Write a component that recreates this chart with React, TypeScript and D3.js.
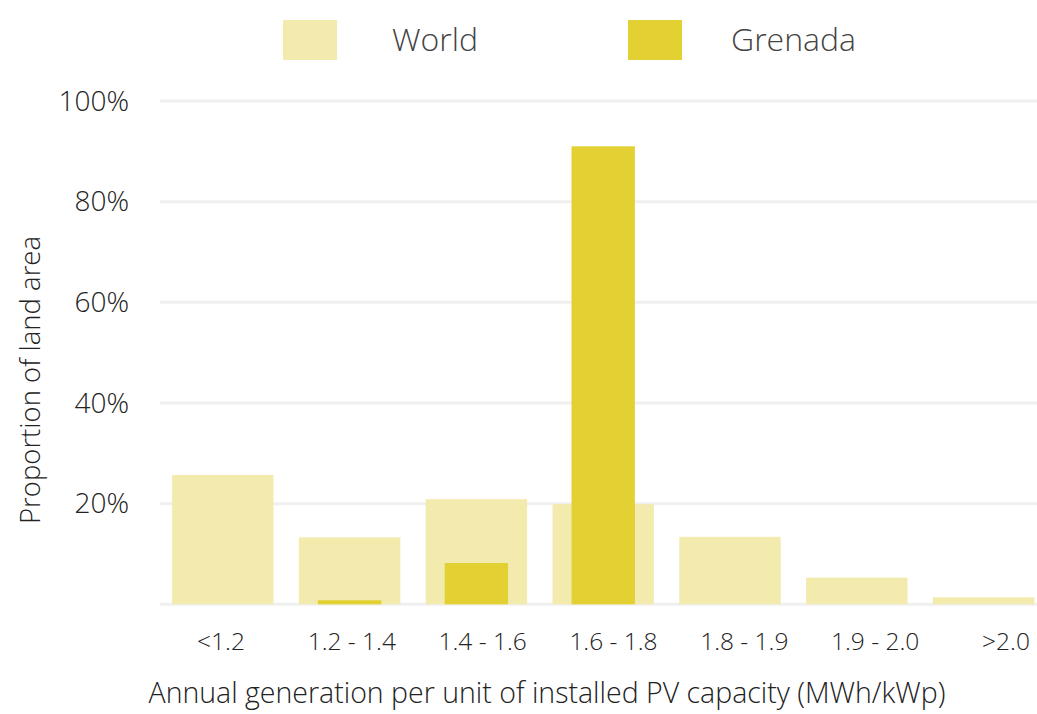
import React, { useEffect, useRef } from 'react';
import * as d3 from 'd3';

const categories = ['<1.2', '1.2 - 1.4', '1.4 - 1.6', '1.6 - 1.8', '1.8 - 1.9', '1.9 - 2.0', '>2.0'];
const worldValues = [25.7, 13.3, 20.9, 19.9, 13.4, 5.3, 1.4];
const grenadaValues = [0, 0.8, 8.2, 91.0, 0, 0, 0];
const yTicks = [0, 20, 40, 60, 80, 100];
const seriesNames = ['World', 'Grenada'];
const seriesColors = ['#f3ebae', '#e3d133'];

const FONT = '"Open Sans", Lato, sans-serif';

const App = () => {
  const svgRef = useRef<SVGSVGElement>(null);

  useEffect(() => {
    const width = 1037;
    const height = 714;

    svgRef.current!.innerHTML = '';
    const svg = d3.select(svgRef.current)
      .attr('width', width)
      .attr('height', height)
      .style('font-family', FONT)
      .style('font-weight', 300);

    const xScale = d3.scaleBand()
      .domain(categories)
      .range([159.4, 1047])
      .padding(0);

    // labels sit a little to the right of the bars in the original
    const labelScale = d3.scalePoint()
      .domain(categories)
      .range([221, 1006]);

    const yScale = d3.scaleLinear()
      .domain([0, 100])
      .range([604.3, 101]);

    const step = xScale.step();
    const worldW = step * 0.8;
    const grenW = step * 0.5;

    // gridlines
    svg.append('g')
      .selectAll('line')
      .data(yTicks)
      .enter().append('line')
      .attr('x1', 160)
      .attr('x2', width)
      .attr('y1', d => yScale(d))
      .attr('y2', d => yScale(d))
      .attr('stroke', '#f0f0f0')
      .attr('stroke-width', 3);

    // y tick labels
    svg.append('g')
      .selectAll('text')
      .data(yTicks.filter(d => d > 0))
      .enter().append('text')
      .attr('x', 129)
      .attr('y', d => yScale(d))
      .attr('dy', '0.35em')
      .attr('text-anchor', 'end')
      .attr('font-size', 28)
      .attr('fill', '#222')
      .text(d => `${d}%`);

    // world bars
    svg.append('g')
      .attr('fill', seriesColors[0])
      .selectAll('rect')
      .data(worldValues)
      .enter().append('rect')
      .attr('x', (d, i) => xScale(categories[i])! + (step - worldW) / 2)
      .attr('y', d => yScale(d))
      .attr('width', worldW)
      .attr('height', d => yScale(0) - yScale(d));

    // grenada bars
    svg.append('g')
      .attr('fill', seriesColors[1])
      .selectAll('rect')
      .data(grenadaValues)
      .enter().append('rect')
      .attr('x', (d, i) => xScale(categories[i])! + (step - grenW) / 2)
      .attr('y', d => yScale(d))
      .attr('width', grenW)
      .attr('height', d => yScale(0) - yScale(d));

    // x tick labels
    svg.append('g')
      .selectAll('text')
      .data(categories)
      .enter().append('text')
      .attr('x', d => labelScale(d)!)
      .attr('y', 641)
      .attr('dy', '0.35em')
      .attr('text-anchor', 'middle')
      .attr('font-size', 24.5)
      .attr('fill', '#222')
      .text(d => d);

    // axis titles
    svg.append('text')
      .attr('x', 547)
      .attr('y', 693)
      .attr('dy', '0.35em')
      .attr('text-anchor', 'middle')
      .attr('font-size', 28.5)
      .attr('fill', '#222')
      .text('Annual generation per unit of installed PV capacity (MWh/kWp)');

    svg.append('text')
      .attr('transform', 'translate(30,380) rotate(-90)')
      .attr('dy', '0.35em')
      .attr('text-anchor', 'middle')
      .attr('font-size', 27.5)
      .attr('fill', '#222')
      .text('Proportion of land area');

    // legend
    const legendX = [283, 628];
    const legend = svg.append('g')
      .selectAll('g')
      .data(seriesNames)
      .enter().append('g')
      .attr('transform', (d, i) => `translate(${legendX[i]},20)`);
    legend.append('rect')
      .attr('width', 54)
      .attr('height', 40)
      .attr('fill', (d, i) => seriesColors[i]);
    legend.append('text')
      .attr('x', (d, i) => (i === 0 ? 109 : 103))
      .attr('y', 20)
      .attr('dy', '0.35em')
      .attr('font-size', 32)
      .attr('fill', '#444')
      .text(d => d);
  }, []);

  return (
    <svg ref={svgRef} style={{ position: 'absolute', left: 0, top: 0 }}></svg>
  );
};

export default App;
